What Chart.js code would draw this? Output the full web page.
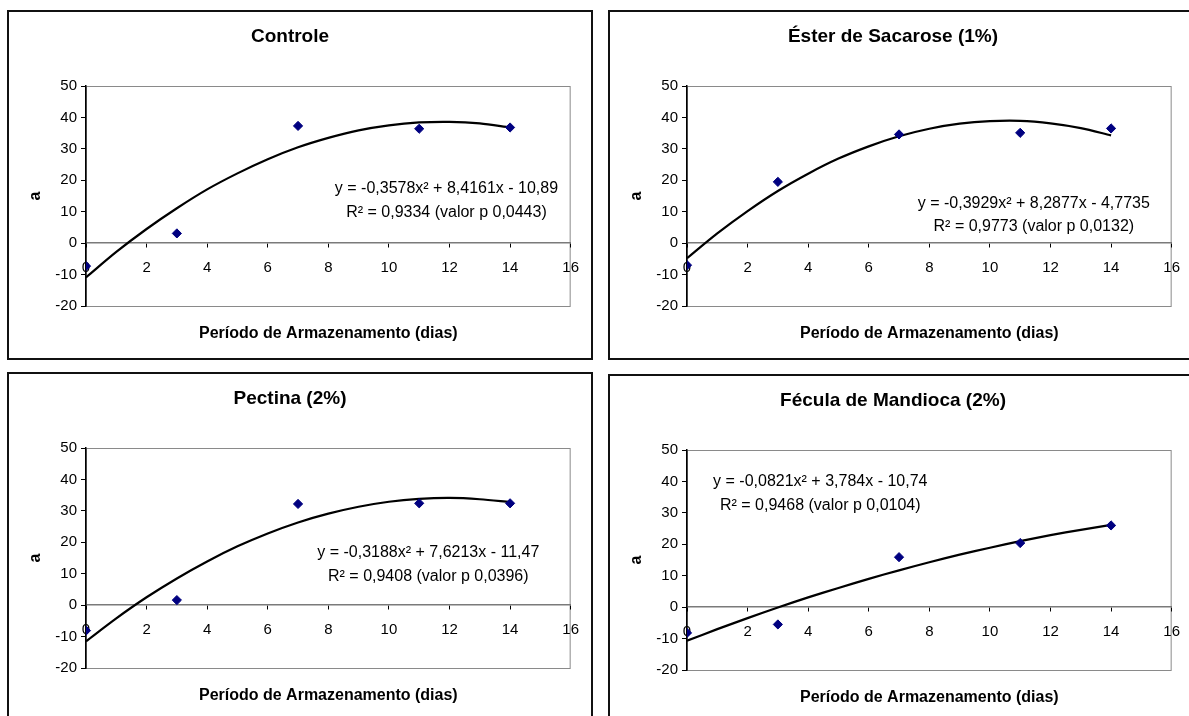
<!DOCTYPE html>
<html>
<head>
<meta charset="utf-8">
<title>Parâmetro a</title>
<script src="https://cdn.jsdelivr.net/npm/chart.js@4.4.1/dist/chart.umd.min.js"></script>
<style>
    body { margin: 0; background: #fff; width: 1189px; height: 716px; overflow: hidden; position: relative; }
    .panel { position: absolute; box-sizing: border-box; border: 2px solid #111; background: #fff; overflow: hidden; }
    .panel canvas { display: block; }
</style>
</head>
<body>
<div class="panel" style="left:7px;top:10px;width:586px;height:350px;"><canvas id="chartControle" width="582" height="346"></canvas></div>
<div class="panel" style="left:608px;top:10px;width:600px;height:350px;border-right:none;"><canvas id="chartEster" width="582" height="346"></canvas></div>
<div class="panel" style="left:7px;top:372px;width:586px;height:360px;"><canvas id="chartPectina" width="582" height="346"></canvas></div>
<div class="panel" style="left:608px;top:374px;width:600px;height:360px;border-right:none;"><canvas id="chartFecula" width="582" height="346"></canvas></div>
<script>
// dias de armazenamento e valores medidos de a
const dias = [0, 3, 7, 11, 14];
const controle = [-7.3, 3.1, 37.3, 36.4, 36.8];
const ester = [-7.0, 19.5, 34.6, 35.1, 36.5];
const pectina = [-8.1, 1.6, 32.2, 32.4, 32.4];
const fecula = [-8.2, -5.5, 15.9, 20.4, 26.0];

// linha de tendência
const diasCurva = [0, 1, 2, 3, 4, 5, 6, 7, 8, 9, 10, 11, 12, 13, 14];
const curvaControle = [-10.9, -2.8, 4.5, 11.1, 17.1, 22.2, 26.7, 30.5, 33.5, 35.9, 37.5, 38.4, 38.6, 38.1, 36.8];
const curvaEster = [-4.8, 3.1, 10.2, 16.6, 22.1, 26.9, 30.8, 34.0, 36.4, 38.0, 38.8, 38.9, 38.1, 36.6, 34.3];
const curvaPectina = [-11.5, -4.2, 2.5, 8.5, 13.9, 18.7, 22.8, 26.3, 29.1, 31.3, 32.9, 33.8, 34.1, 33.7, 32.8];
const curvaFecula = [-10.7, -7.0, -3.5, -0.1, 3.1, 6.1, 9.0, 11.7, 14.3, 16.7, 18.9, 21.0, 22.9, 24.6, 26.2];

const xTicks = [0, 2, 4, 6, 8, 10, 12, 14, 16];
const yTicks = [-20, -10, 0, 10, 20, 30, 40, 50];

const fonte = '"Liberation Sans", Arial, sans-serif';
Chart.defaults.font.family = fonte;
Chart.defaults.color = "#000";

const bordaPlugin = {
    id: "borda",
    beforeDraw(chart) {
        const a = chart.chartArea;
        const c = chart.ctx;
        c.save();
        c.strokeStyle = "#8a8a8a";
        c.lineWidth = 1;
        c.strokeRect(a.left + 0.5, a.top + 0.5, a.right - a.left - 1, a.bottom - a.top);
        c.restore();
    }
};

const equacaoPlugin = {
    id: "equacao",
    afterDatasetsDraw(chart, args, opts) {
        const c = chart.ctx;
        const px = chart.scales.x.getPixelForValue(opts.x);
        const py = chart.scales.y.getPixelForValue(opts.y);
        c.save();
        c.font = "16px " + fonte;
        c.fillStyle = "#000";
        c.textAlign = "center";
        c.textBaseline = "middle";
        opts.lines.forEach(function (t, i) {
            c.fillText(t, px, py + i * 23.5);
        });
        c.restore();
    }
};

function drawPanel(id, title, valores, curva, eq, rightPad) {
    const ctx = document.getElementById(id).getContext("2d");
    return new Chart(ctx, {
        type: "scatter",
        data: {
            datasets: [
                {
                    data: dias.map(function (d, i) { return { x: d, y: valores[i] }; }),
                    pointStyle: "rectRot",
                    pointRadius: 4.6,
                    borderWidth: 1,
                    backgroundColor: "#000080",
                    borderColor: "#000080",
                    order: 1,
                },
                {
                    type: "line",
                    data: diasCurva.map(function (d, i) { return { x: d, y: curva[i] }; }),
                    borderColor: "#000",
                    borderWidth: 2.2,
                    pointRadius: 0,
                    tension: 0.3,
                    fill: false,
                    order: 2,
                },
            ],
        },
        options: {
            responsive: false,
            animation: false,
            events: [],
            layout: { padding: { left: 0, right: rightPad, top: 0, bottom: 0 } },
            plugins: {
                legend: { display: false },
                tooltip: { enabled: false },
                title: {
                    display: true,
                    text: title,
                    color: "#000",
                    font: { size: 19, weight: "bold" },
                    padding: { top: 13.6, bottom: 37.6 },
                },
                subtitle: {
                    display: true,
                    position: "bottom",
                    fullSize: false,
                    text: "Período de Armazenamento (dias)",
                    color: "#000",
                    font: { size: 16, weight: "bold" },
                    padding: { top: 18.1, bottom: 14.7 },
                },
                equacao: eq,
            },
            scales: {
                x: {
                    type: "linear",
                    position: { y: 0 },
                    min: xTicks[0],
                    max: xTicks[xTicks.length - 1],
                    afterBuildTicks: function (axis) {
                        axis.ticks = xTicks.map(function (v) { return { value: v }; });
                    },
                    grid: { drawOnChartArea: false, drawTicks: true, tickLength: 4, tickColor: "#000" },
                    border: { color: "#7a7a7a", width: 1.5 },
                    ticks: { color: "#000", font: { size: 15 }, padding: 12, maxRotation: 0, autoSkip: false },
                },
                y: {
                    type: "linear",
                    position: "left",
                    min: yTicks[0],
                    max: yTicks[yTicks.length - 1],
                    afterBuildTicks: function (axis) {
                        axis.ticks = yTicks.map(function (v) { return { value: v }; });
                    },
                    afterFit: function (axis) {
                        axis.width = 77;
                    },
                    grid: { drawOnChartArea: false, drawTicks: true, tickLength: 5, tickColor: "#000" },
                    border: { color: "#000", width: 1.5 },
                    ticks: { color: "#000", font: { size: 15 }, padding: 4 },
                    title: {
                        display: true,
                        text: "a",
                        color: "#000",
                        font: { size: 16, weight: "bold" },
                        padding: { top: 17.4, bottom: 0 },
                    },
                },
            },
        },
        plugins: [bordaPlugin, equacaoPlugin],
    });
}

drawPanel("chartControle", "Controle", controle, curvaControle, {
    x: 11.9, y: 17.2,
    lines: ["y = -0,3578x² + 8,4161x - 10,89", "R² = 0,9334 (valor p 0,0443)"],
}, 20);

drawPanel("chartEster", "Éster de Sacarose (1%)", ester, curvaEster, {
    x: 11.45, y: 12.6,
    lines: ["y = -0,3929x² + 8,2877x - 4,7735", "R² = 0,9773 (valor p 0,0132)"],
}, 16);

drawPanel("chartPectina", "Pectina (2%)", pectina, curvaPectina, {
    x: 11.3, y: 16.7,
    lines: ["y = -0,3188x² + 7,6213x - 11,47", "R² = 0,9408 (valor p 0,0396)"],
}, 20);

drawPanel("chartFecula", "Fécula de Mandioca (2%)", fecula, curvaFecula, {
    x: 4.4, y: 39.9,
    lines: ["y = -0,0821x² + 3,784x - 10,74", "R² = 0,9468 (valor p 0,0104)"],
}, 16);
</script>
</body>
</html>
